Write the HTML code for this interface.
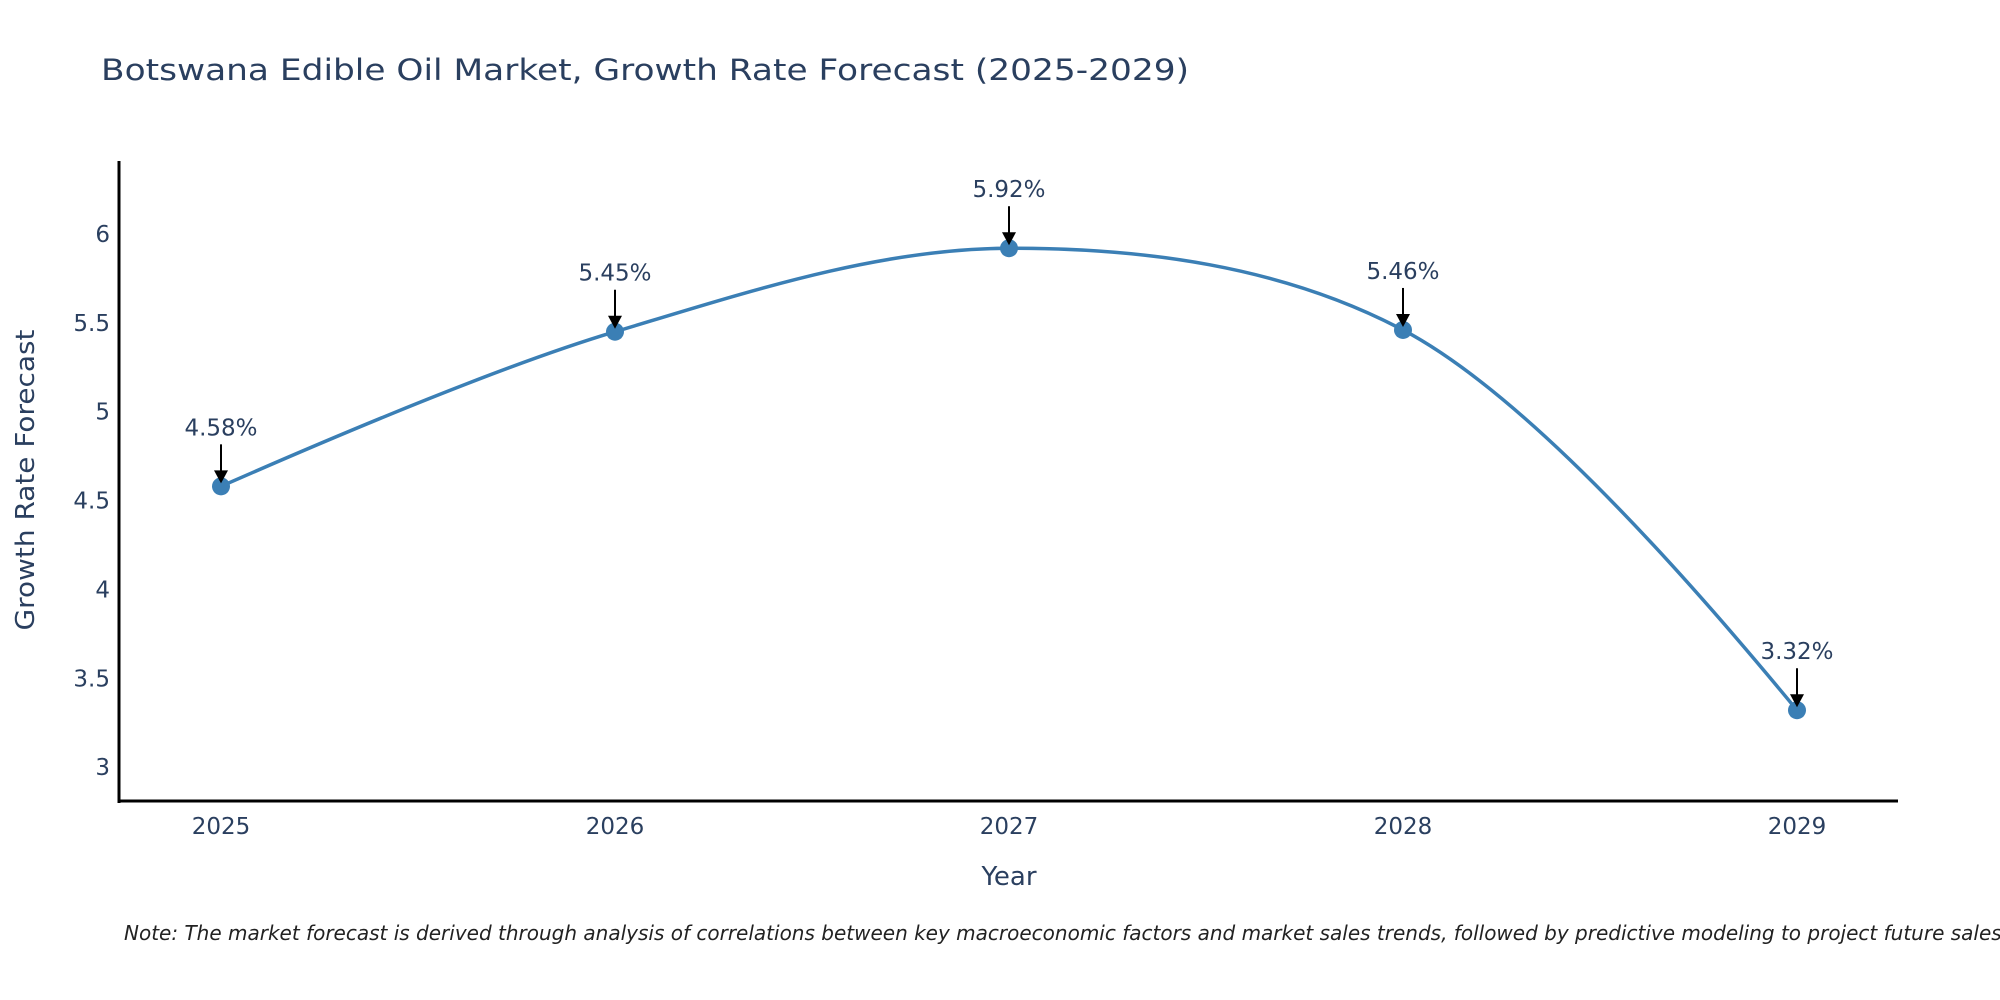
<!DOCTYPE html>
<html><head><meta charset="utf-8"><style>
html,body{margin:0;padding:0;background:#fff;}
svg{display:block;font-family:"DejaVu Sans","Liberation Sans",sans-serif;}
</style></head><body>
<svg id="chart" width="2000" height="1000" viewBox="0 0 2000 1000">
<text x="101" y="80" font-size="29" fill="#2a3f5f" textLength="1088" lengthAdjust="spacingAndGlyphs">Botswana Edible Oil Market, Growth Rate Forecast (2025-2029)</text>
<g id="yticks"></g>
<g id="xticks"></g>
<path id="line" fill="none" stroke="#3b7fb5" stroke-width="3.5"/>
<g id="points"></g>
<g id="annots"></g>
<line x1="119" y1="161" x2="119" y2="803" stroke="#000" stroke-width="3"/>
<line x1="117.5" y1="801" x2="1898" y2="801" stroke="#000" stroke-width="3"/>
<text transform="translate(34,480) rotate(-90)" text-anchor="middle" font-size="26" fill="#2a3f5f" textLength="301" lengthAdjust="spacingAndGlyphs">Growth Rate Forecast</text>
<text x="1009" y="885" text-anchor="middle" font-size="26" fill="#2a3f5f">Year</text>
<text x="124" y="940" font-size="20" font-style="italic" fill="#222">Note: The market forecast is derived through analysis of correlations between key macroeconomic factors and market sales trends, followed by predictive modeling to project future sales.</text>
</svg>
<script>
const years = [2025, 2026, 2027, 2028, 2029];
const growth = [4.58, 5.45, 5.92, 5.46, 3.32];
const labels = ["4.58%", "5.45%", "5.92%", "5.46%", "3.32%"];
const yTicks = [3, 3.5, 4, 4.5, 5, 5.5, 6];
const yTickLabels = ["3", "3.5", "4", "4.5", "5", "5.5", "6"];

const NS = "http://www.w3.org/2000/svg";
const xScale = v => 221 + (v - 2025) * 394;
const yScale = v => 234 + (6 - v) * 177.7;
function mk(tag, attrs, parent) {
  const e = document.createElementNS(NS, tag);
  for (const k in attrs) e.setAttribute(k, attrs[k]);
  parent.appendChild(e); return e;
}
const yt = document.getElementById('yticks');
yTicks.forEach((v, i) => {
  const t = mk('text', {x: 110, y: yScale(v) + 8, 'text-anchor': 'end', 'font-size': 23, fill: '#2a3f5f'}, yt);
  
  
  t.textContent = yTickLabels[i];
});
const xt = document.getElementById('xticks');
years.forEach(v => {
  const t = mk('text', {x: xScale(v), y: 834, 'text-anchor': 'middle', 'font-size': 23, fill: '#2a3f5f'}, xt);
  
  
  t.textContent = String(v);
});
// plotly-style spline
const pts = years.map((y, i) => [xScale(y), yScale(growth[i])]);
function makeTangent(prev, cur, next, sm) {
  const d1x = prev[0]-cur[0], d1y = prev[1]-cur[1], d2x = next[0]-cur[0], d2y = next[1]-cur[1];
  const d1a = Math.pow(d1x*d1x + d1y*d1y, 0.25), d2a = Math.pow(d2x*d2x + d2y*d2y, 0.25);
  const numx = (d2a*d2a*d1x - d1a*d1a*d2x)*sm, numy = (d2a*d2a*d1y - d1a*d1a*d2y)*sm;
  const den1 = 3*d2a*(d1a+d2a), den2 = 3*d1a*(d1a+d2a);
  return [[cur[0]+numx/den1, cur[1]+numy/den1], [cur[0]-numx/den2, cur[1]-numy/den2]];
}
const tang = [];
for (let i = 1; i < pts.length - 1; i++) tang.push(makeTangent(pts[i-1], pts[i], pts[i+1], 1));
let d = `M${pts[0]} Q${tang[0][0]} ${pts[1]}`;
for (let i = 2; i < pts.length - 1; i++) d += ` C${tang[i-2][1]} ${tang[i-1][0]} ${pts[i]}`;
d += ` Q${tang[pts.length-3][1]} ${pts[pts.length-1]}`;
document.getElementById('line').setAttribute('d', d);
const pg = document.getElementById('points');
const ag = document.getElementById('annots');
pts.forEach((p, i) => {
  const c = mk('circle', {cx: p[0], cy: p[1], r: 9, fill: '#3b7fb5'}, pg);
  
  
  const l = mk('line', {x1: p[0], y1: p[1] - 42, x2: p[0], y2: p[1] - 14, stroke: '#000', 'stroke-width': 2}, ag);
  
  
  const h = mk('path', {d: `M${p[0]-7},${p[1]-16} L${p[0]+7},${p[1]-16} L${p[0]},${p[1]-3} Z`, fill: '#000'}, ag);
  
  
  const t = mk('text', {x: p[0], y: p[1] - 51, 'text-anchor': 'middle', 'font-size': 23, fill: '#2a3f5f'}, ag);
  
  
  t.textContent = labels[i];
});
</script>
</body></html>
